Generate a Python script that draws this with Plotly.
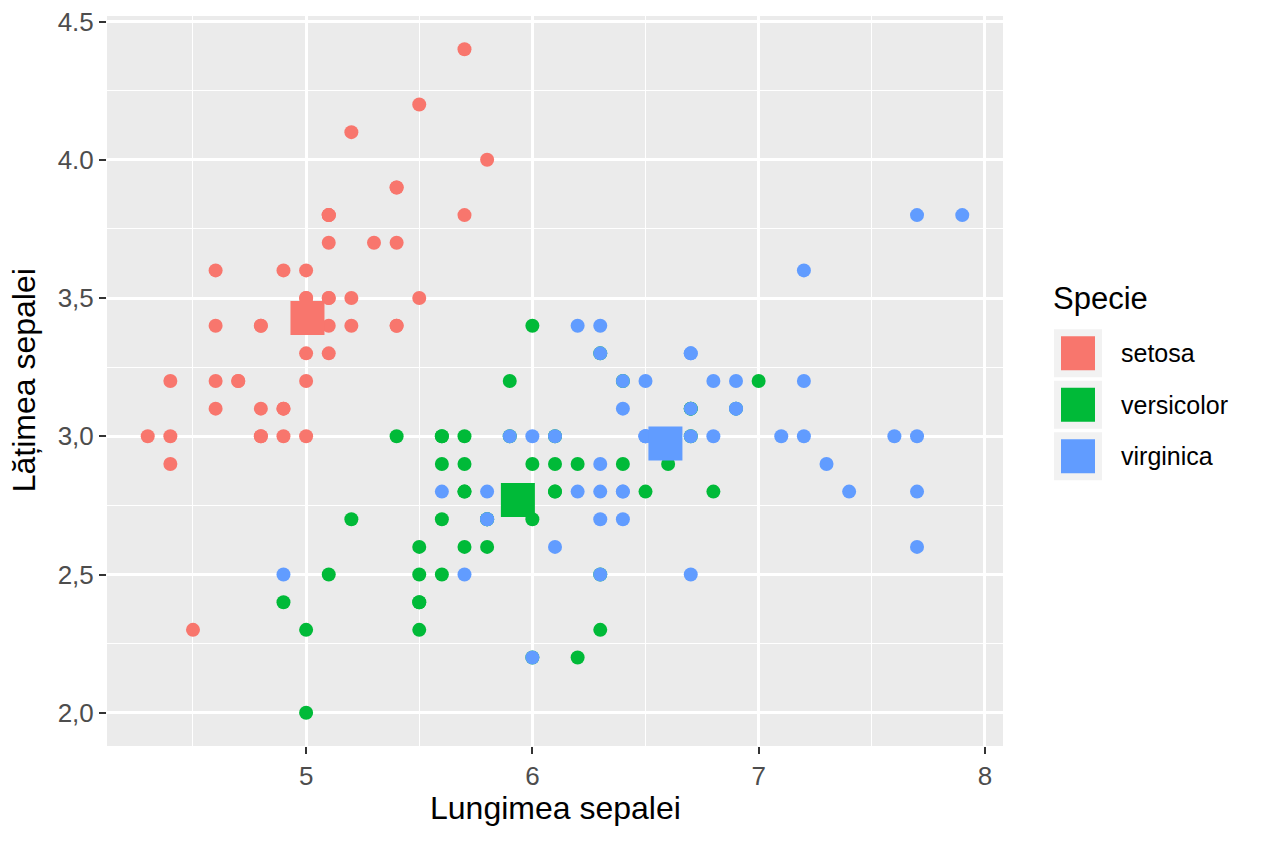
import plotly.graph_objects as go

species = ["setosa", "versicolor", "virginica"]
colors = ["#F8766D", "#00BA38", "#619CFF"]

setosa_len = [5.1,4.9,4.7,4.6,5.0,5.4,4.6,5.0,4.4,4.9,5.4,4.8,4.8,4.3,5.8,5.7,5.4,5.1,5.7,5.1,
              5.4,5.1,4.6,5.1,4.8,5.0,5.0,5.2,5.2,4.7,4.8,5.4,5.2,5.5,4.9,5.0,5.5,4.9,4.4,5.1,
              5.0,4.5,4.4,5.0,5.1,4.8,5.1,4.6,5.3,5.0]
setosa_wid = [3.5,3.0,3.2,3.1,3.6,3.9,3.4,3.4,2.9,3.1,3.7,3.4,3.0,3.0,4.0,4.4,3.9,3.5,3.8,3.8,
              3.4,3.7,3.6,3.3,3.4,3.0,3.4,3.5,3.4,3.2,3.1,3.4,4.1,4.2,3.1,3.2,3.5,3.6,3.0,3.4,
              3.5,2.3,3.2,3.5,3.8,3.0,3.8,3.2,3.7,3.3]
versicolor_len = [7.0,6.4,6.9,5.5,6.5,5.7,6.3,4.9,6.6,5.2,5.0,5.9,6.0,6.1,5.6,6.7,5.6,5.8,6.2,5.6,
                  5.9,6.1,6.3,6.1,6.4,6.6,6.8,6.7,6.0,5.7,5.5,5.5,5.8,6.0,5.4,6.0,6.7,6.3,5.6,5.5,
                  5.5,6.1,5.8,5.0,5.6,5.7,5.7,6.2,5.1,5.7]
versicolor_wid = [3.2,3.2,3.1,2.3,2.8,2.8,3.3,2.4,2.9,2.7,2.0,3.0,2.2,2.9,2.9,3.1,3.0,2.7,2.2,2.5,
                  3.2,2.8,2.5,2.8,2.9,3.0,2.8,3.0,2.9,2.6,2.4,2.4,2.7,2.7,3.0,3.4,3.1,2.3,3.0,2.5,
                  2.6,3.0,2.6,2.3,2.7,3.0,2.9,2.9,2.5,2.8]
virginica_len = [6.3,5.8,7.1,6.3,6.5,7.6,4.9,7.3,6.7,7.2,6.5,6.4,6.8,5.7,5.8,6.4,6.5,7.7,7.7,6.0,
                 6.9,5.6,7.7,6.3,6.7,7.2,6.2,6.1,6.4,7.2,7.4,7.9,6.4,6.3,6.1,7.7,6.3,6.4,6.0,6.9,
                 6.7,6.9,5.8,6.8,6.7,6.7,6.3,6.5,6.2,5.9]
virginica_wid = [3.3,2.7,3.0,2.9,3.0,3.0,2.5,2.9,2.5,3.6,3.2,2.7,3.0,2.5,2.8,3.2,3.0,3.8,2.6,2.2,
                 3.2,2.8,2.8,2.7,3.3,3.2,2.8,3.0,2.8,3.0,2.8,3.8,2.8,2.8,2.6,3.0,3.4,3.1,3.0,3.1,
                 3.1,3.1,2.7,3.2,3.3,3.0,2.5,3.0,3.4,3.0]

mean_len = [5.006, 5.936, 6.588]
mean_wid = [3.428, 2.770, 2.974]

x_ticks = [5, 6, 7, 8]
x_labels = ["5", "6", "7", "8"]
y_ticks = [2.0, 2.5, 3.0, 3.5, 4.0, 4.5]
y_labels = ["2,0", "2,5", "3,0", "3,5", "4.0", "4.5"]

x_title = "Lungimea sepalei"
y_title = "Lățimea sepalei"
legend_title = "Specie"

FONT = "Liberation Sans, Arial, sans-serif"
W, H = 1264, 843
L, R, T, B = 107, 1003, 15.5, 746
PW, PH = R - L, B - T

def px(xp):
    return (xp - L) / PW

def py(yp):
    return (B - yp) / PH

fig = go.Figure()

data = [(setosa_len, setosa_wid), (versicolor_len, versicolor_wid), (virginica_len, virginica_wid)]
for i, sp in enumerate(species):
    xs, ys = data[i]
    fig.add_trace(go.Scatter(x=xs, y=ys, mode="markers", name=sp,
                             marker=dict(symbol="circle", size=14, color=colors[i]),
                             showlegend=False))

# mean squares (drawn on top of the points)
for i, sp in enumerate(species):
    fig.add_trace(go.Scatter(x=[mean_len[i]], y=[mean_wid[i]], mode="markers",
                             marker=dict(symbol="square", size=34, color=colors[i]),
                             showlegend=False, hoverinfo="skip"))

shapes = []
annotations = []
# axis titles
annotations.append(dict(text=x_title, x=px(555), y=py(808), xref="paper", yref="paper",
                        showarrow=False, xanchor="center", yanchor="middle",
                        font=dict(family=FONT, size=32, color="black")))
annotations.append(dict(text=y_title, x=px(24), y=py(380), xref="paper", yref="paper",
                        showarrow=False, xanchor="center", yanchor="middle", textangle=-90,
                        font=dict(family=FONT, size=32, color="black")))
# legend
annotations.append(dict(text=legend_title, x=px(1051), y=py(298), xref="paper", yref="paper",
                        showarrow=False, xanchor="left", yanchor="middle",
                        font=dict(family=FONT, size=31, color="black")))
key_top = [329, 380.5, 432]
for i, sp in enumerate(species):
    t = key_top[i]
    shapes.append(dict(type="rect", xref="paper", yref="paper",
                       x0=px(1054), x1=px(1102), y0=py(t), y1=py(t + 48),
                       fillcolor="#F2F2F2", line=dict(width=0), layer="above"))
    shapes.append(dict(type="rect", xref="paper", yref="paper",
                       x0=px(1061), x1=px(1095), y0=py(t + 7), y1=py(t + 41),
                       fillcolor=colors[i], line=dict(width=0), layer="above"))
    annotations.append(dict(text=sp, x=px(1119), y=py(t + 24), xref="paper", yref="paper",
                            showarrow=False, xanchor="left", yanchor="middle",
                            font=dict(family=FONT, size=25, color="black")))

fig.update_layout(
    width=W, height=H,
    margin=dict(l=L, r=W - R, t=T, b=H - B, pad=0, autoexpand=False),
    paper_bgcolor="white", plot_bgcolor="#EBEBEB",
    showlegend=False,
    shapes=shapes, annotations=annotations,
    font=dict(family=FONT),
)
fig.update_xaxes(range=[4.12, 8.08], tickvals=x_ticks, ticktext=x_labels, automargin=False,
                 showgrid=True, gridcolor="white", gridwidth=2.6, zeroline=False,
                 ticks="outside", ticklen=7, tickwidth=2.4, tickcolor="#333333",
                 tickfont=dict(family=FONT, size=26, color="#4D4D4D"),
                 minor=dict(tickvals=[4.5, 5.5, 6.5, 7.5], showgrid=True, gridcolor="white", gridwidth=1.3),
                 showline=False)
fig.update_yaxes(range=[1.88, 4.52], tickvals=y_ticks, ticktext=y_labels, automargin=False,
                 showgrid=True, gridcolor="white", gridwidth=2.6, zeroline=False,
                 ticks="outside", ticklen=7, tickwidth=2.4, tickcolor="#333333",
                 tickfont=dict(family=FONT, size=26, color="#4D4D4D"),
                 minor=dict(tickvals=[2.25, 2.75, 3.25, 3.75, 4.25], showgrid=True, gridcolor="white", gridwidth=1.3),
                 showline=False)

fig.write_html("out.html", config={"displayModeBar": False},
               post_script="document.body.style.margin='0';document.body.style.overflow='hidden';")
